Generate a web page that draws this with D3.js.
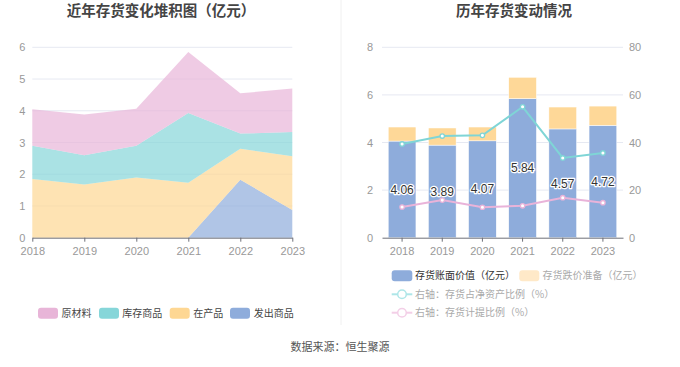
<!DOCTYPE html>
<html><head><meta charset="utf-8">
<script src="https://cdn.jsdelivr.net/npm/d3@7"></script>
<style>
html,body{margin:0;padding:0;background:#fff;}
svg{display:block;font-family:"Noto Sans CJK SC","Noto Sans",sans-serif;}
</style></head>
<body><svg id="c" width="680" height="367"></svg>
<script>
const years = ["2018","2019","2020","2021","2022","2023"];
// left stacked area (亿元)
const faChu   = [0, 0, 0, 0, 1.83, 0.87];      // 发出商品
const zaiChan = [1.85, 1.68, 1.90, 1.73, 0.97, 1.70]; // 在产品
const kuCun   = [1.05, 0.92, 1.00, 2.20, 0.48, 0.76]; // 库存商品
const yuanCai = [1.15, 1.28, 1.16, 1.92, 1.27, 1.37]; // 原材料
const leftTicks = [0,1,2,3,4,5,6];
// right chart
const bookValue = [4.06, 3.89, 4.07, 5.84, 4.57, 4.72];   // 存货账面价值
const provision = [0.59, 0.72, 0.58, 0.90, 0.92, 0.81];   // 存货跌价准备
const ratioNetAsset = [39.4, 42.7, 43.0, 55.0, 33.5, 35.6]; // 存货占净资产比例 %
const ratioProvision = [12.9, 15.8, 12.8, 13.4, 16.8, 14.7]; // 存货计提比例 %
const rightTicksL = [0,2,4,6,8];
const rightTicksR = [0,20,40,60,80];

const svg = d3.select("#c");
const gridC = "#e6e9f2", axisC = "#6e7079", lblC = "#999";
const fmt = d3.format("d");

// titles
svg.append("text").attr("x",161).attr("y",16).attr("text-anchor","middle")
  .attr("font-size",14.5).attr("font-weight","bold").attr("fill","#444").text("近年存货变化堆积图（亿元）");
svg.append("text").attr("x",514).attr("y",16).attr("text-anchor","middle")
  .attr("font-size",14.5).attr("font-weight","bold").attr("fill","#444").text("历年存货变动情况");
// divider
svg.append("line").attr("x1",341).attr("x2",341).attr("y1",0).attr("y2",325).attr("stroke","#f0f0f0").attr("stroke-width",1);

// ---------- LEFT ----------
const xL = d3.scalePoint().domain(years).range([32.3, 292.3]);
const yL = d3.scaleLinear().domain([0,6]).range([237.7, 47.3]);
const gL = svg.append("g");
gL.selectAll(".gl").data(leftTicks.slice(1)).join("line")
  .attr("x1",32.3).attr("x2",292.3).attr("y1",d=>yL(d)).attr("y2",d=>yL(d))
  .attr("stroke",gridC).attr("stroke-width",1);
const keys = ["faChu","zaiChan","kuCun","yuanCai"];
const colsArea = {faChu:"#8eacdb", zaiChan:"#fed793", kuCun:"#86d6d9", yuanCai:"#e8b5d8"};
const table = years.map((y,i)=>({year:y, faChu:faChu[i], zaiChan:zaiChan[i], kuCun:kuCun[i], yuanCai:yuanCai[i]}));
const stack = d3.stack().keys(keys)(table);
const area = d3.area().x(d=>xL(d.data.year)).y0(d=>yL(d[0])).y1(d=>yL(d[1]));
gL.selectAll(".ar").data(stack).join("path")
  .attr("d",area).attr("fill",d=>colsArea[d.key]).attr("fill-opacity",0.7);
gL.append("g").attr("transform","translate(0,237.7)")
  .call(d3.axisBottom(xL).tickSize(4).tickSizeOuter(0))
  .call(g=>{g.select(".domain").attr("stroke",axisC);g.selectAll("line").attr("stroke",axisC);
    g.selectAll("text").attr("fill",lblC).attr("font-size",11).attr("dy","0.9em").attr("font-family","sans-serif");});
gL.append("g").attr("transform","translate(32.3,0)")
  .call(d3.axisLeft(yL).tickValues(leftTicks).tickFormat(fmt).tickSize(0).tickPadding(7))
  .call(g=>{g.select(".domain").remove();
    g.selectAll("text").attr("fill",lblC).attr("font-size",11).attr("font-family","sans-serif");});

// left legend
const legL = [["原材料","#e8b5d8",38,62],["库存商品","#86d6d9",99,122.7],["在产品","#fed793",169.7,193.7],["发出商品","#8eacdb",230,254.3]];
legL.forEach(([t,c,sx,tx])=>{
  svg.append("rect").attr("x",sx).attr("y",307.8).attr("width",20).attr("height",11).attr("rx",3).attr("fill",c);
  svg.append("text").attr("x",tx-0.5).attr("y",313.5).attr("dy","0.35em").attr("font-size",10).attr("fill","#444").text(t);
});

// ---------- RIGHT ----------
const xR = d3.scaleBand().domain(years).range([382,623]).paddingInner(0.31).paddingOuter(0.155);
const yR = d3.scaleLinear().domain([0,8]).range([237.7,47.3]);
const yR2 = d3.scaleLinear().domain([0,80]).range([237.7,47.3]);
const gR = svg.append("g");
gR.selectAll(".gl").data(rightTicksL.slice(1)).join("line")
  .attr("x1",382).attr("x2",623).attr("y1",d=>yR(d)).attr("y2",d=>yR(d))
  .attr("stroke",gridC).attr("stroke-width",1);
const bars = years.map((y,i)=>({year:y,b:bookValue[i],p:provision[i]}));
gR.selectAll(".bb").data(bars).join("rect")
  .attr("x",d=>xR(d.year)).attr("width",xR.bandwidth())
  .attr("y",d=>yR(d.b)).attr("height",d=>yR(0)-yR(d.b))
  .attr("fill","#8eacdb").attr("stroke","#fff").attr("stroke-width",0.5);
gR.selectAll(".bp").data(bars).join("rect")
  .attr("x",d=>xR(d.year)).attr("width",xR.bandwidth())
  .attr("y",d=>yR(d.b+d.p)).attr("height",d=>yR(d.b)-yR(d.b+d.p))
  .attr("fill","#fed898").attr("stroke","#fff").attr("stroke-width",0.5);
gR.append("g").attr("transform","translate(0,237.7)")
  .call(d3.axisBottom(xR).tickSize(4).tickSizeOuter(0))
  .call(g=>{g.select(".domain").attr("stroke",axisC);g.selectAll("line").attr("stroke",axisC);
    g.selectAll("text").attr("fill",lblC).attr("font-size",11).attr("dy","0.9em").attr("font-family","sans-serif");});
gR.append("g").attr("transform","translate(382,0)")
  .call(d3.axisLeft(yR).tickValues(rightTicksL).tickFormat(fmt).tickSize(0).tickPadding(9))
  .call(g=>{g.select(".domain").remove();
    g.selectAll("text").attr("fill",lblC).attr("font-size",11).attr("font-family","sans-serif");});
gR.append("g").attr("transform","translate(623,0)")
  .call(d3.axisRight(yR2).tickValues(rightTicksR).tickFormat(fmt).tickSize(0).tickPadding(6))
  .call(g=>{g.select(".domain").remove();
    g.selectAll("text").attr("fill",lblC).attr("font-size",11).attr("font-family","sans-serif");});
// lines
const cx = y=>xR(y)+xR.bandwidth()/2;
const line = d3.line().x(d=>cx(d.year)).y(d=>yR2(d.v));
const s1 = years.map((y,i)=>({year:y,v:ratioNetAsset[i]}));
const s2 = years.map((y,i)=>({year:y,v:ratioProvision[i]}));
[[s1,"#7fd5d6"],[s2,"#e9b3d9"]].forEach(([s,c])=>{
  gR.append("path").datum(s).attr("d",line).attr("fill","none").attr("stroke",c).attr("stroke-width",2);
  gR.selectAll(null).data(s).join("circle").attr("cx",d=>cx(d.year)).attr("cy",d=>yR2(d.v))
    .attr("r",2.2).attr("fill","#fff").attr("stroke",c).attr("stroke-width",1.3);
});
// bar labels
gR.selectAll(".bl").data(bars).join("text")
  .attr("x",d=>cx(d.year)).attr("y",d=>yR(d.b/2)).attr("dy","0.35em").attr("text-anchor","middle")
  .attr("font-size",12).attr("font-family","sans-serif").attr("fill","#333")
  .attr("stroke","#fff").attr("stroke-width",2.5).attr("paint-order","stroke").attr("stroke-linejoin","round")
  .text(d=>d.b.toFixed(2));

// right legend
svg.append("rect").attr("x",391.7).attr("y",270.2).attr("width",20.6).attr("height",11).attr("rx",3).attr("fill","#8eacdb");
svg.append("text").attr("x",415).attr("y",275.7).attr("dy","0.35em").attr("font-size",10).attr("fill","#333").text("存货账面价值（亿元）");
svg.append("rect").attr("x",519.3).attr("y",270.2).attr("width",20).attr("height",11).attr("rx",3).attr("fill","#ffe9c8");
svg.append("text").attr("x",542.5).attr("y",275.7).attr("dy","0.35em").attr("font-size",10).attr("fill","#aaa").text("存货跌价准备（亿元）");
[[294.3,"#aee6e8","右轴：存货占净资产比例（%）"],[312.7,"#f3cfe7","右轴：存货计提比例（%）"]].forEach(([y,c,t])=>{
  svg.append("line").attr("x1",391.7).attr("x2",412.3).attr("y1",y).attr("y2",y).attr("stroke",c).attr("stroke-width",2);
  svg.append("circle").attr("cx",402).attr("cy",y).attr("r",4.3).attr("fill","#fff").attr("stroke",c).attr("stroke-width",1.5);
  svg.append("text").attr("x",415).attr("y",y).attr("dy","0.35em").attr("font-size",10).attr("fill","#aaa").text(t);
});

// source
svg.append("text").attr("x",340).attr("y",351).attr("text-anchor","middle").attr("font-size",11).attr("fill","#555").text("数据来源：恒生聚源");
</script></body></html>
